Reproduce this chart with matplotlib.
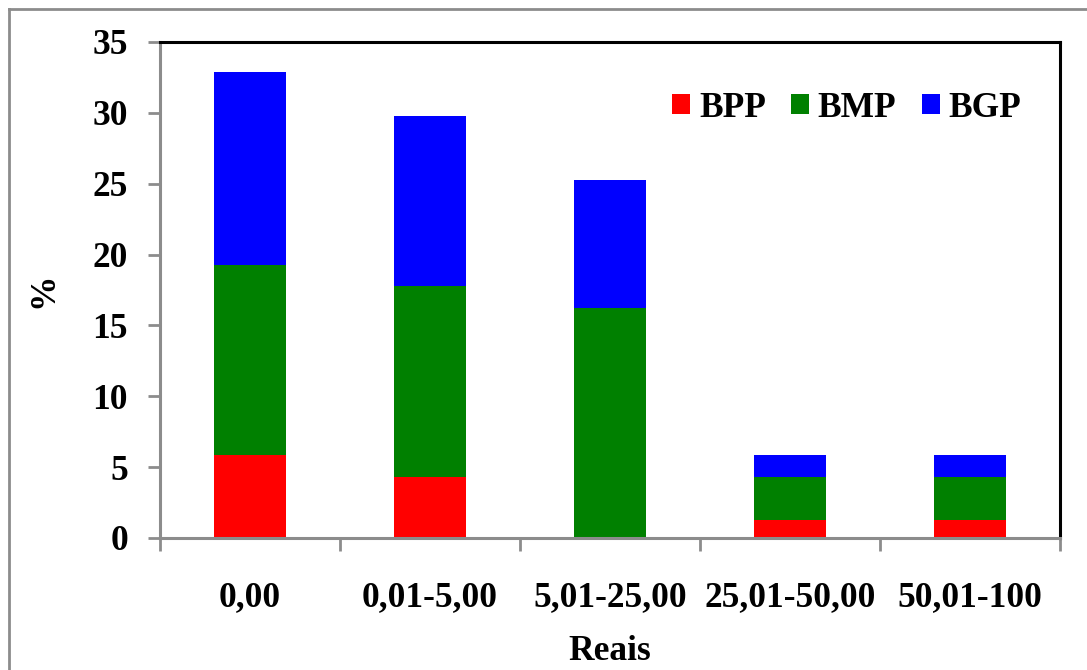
import matplotlib
matplotlib.use("Agg")
import matplotlib.pyplot as plt
from matplotlib.lines import Line2D
import numpy as np

# Income classes (Reais) and stacked percentages per group
categories = ["0,00", "0,01-5,00", "5,01-25,00", "25,01-50,00", "50,01-100"]
bpp = [5.88, 4.31, 0.0, 1.27, 1.27]
bmp = [13.35, 13.44, 16.20, 3.04, 3.04]
bgp = [13.65, 12.02, 9.05, 1.56, 1.56]
series_names = ["BPP", "BMP", "BGP"]
colors = ["#ff0000", "#008000", "#0000ff"]
yticks = [0, 5, 10, 15, 20, 25, 30, 35]

plt.rcParams["font.family"] = ["Liberation Serif", "DejaVu Serif"]
plt.rcParams["font.weight"] = "bold"

W, H = 1087, 670
fig = plt.figure(figsize=(W / 100, H / 100), dpi=100)
ax = fig.add_axes([160 / W, 1 - 538 / H, 900 / W, 496 / H])

x = np.arange(len(categories))
width = 0.4
bottom = np.zeros(len(categories))
for vals, name, col in zip([bpp, bmp, bgp], series_names, colors):
    ax.bar(x, vals, width, bottom=bottom, color=col, label=name, linewidth=0)
    bottom += np.array(vals)

ax.set_xlim(-0.5, len(categories) - 0.5)
ax.set_ylim(0, 35)

# y axis
ax.set_yticks(yticks)
ax.set_yticklabels([str(t) for t in yticks], fontsize=25.5, fontweight="bold")
ax.tick_params(axis="y", direction="out", length=9, width=2, color="#8c8c8c", pad=14)

# x axis: labels at centers, tick marks at category boundaries
ax.set_xticks(x)
ax.set_xticklabels(categories, fontsize=25.5, fontweight="bold")
ax.tick_params(axis="x", which="major", length=0, pad=31)
ax.set_xticks(np.arange(-0.5, len(categories)), minor=True)
ax.tick_params(axis="x", which="minor", direction="out", length=9, width=2, color="#8c8c8c")

for side in ["left", "bottom"]:
    ax.spines[side].set_color("#8c8c8c")
    ax.spines[side].set_linewidth(2.2)
for side in ["top", "right"]:
    ax.spines[side].set_color("black")
    ax.spines[side].set_linewidth(2.2)

ax.set_ylabel("%", fontsize=25.5, fontweight="bold")
ax.yaxis.set_label_coords(-0.111, 0.5)
ax.set_xlabel("Reais", fontsize=25.5, fontweight="bold")
ax.xaxis.set_label_coords(0.5, -0.196)

ax.legend(loc="center right", bbox_to_anchor=(0.957, 0.866), ncol=3, frameon=False,
          handlelength=0.5, handleheight=0.5, handletextpad=0.25,
          columnspacing=0.72, borderaxespad=0, borderpad=0,
          prop={"size": 25.5, "weight": "bold"})

# outer frame
fig.add_artist(Line2D([9 / W, 9 / W], [0, 1 - 9 / H], transform=fig.transFigure,
                      color="#8c8c8c", linewidth=2))
fig.add_artist(Line2D([9 / W, 1], [1 - 9 / H, 1 - 9 / H], transform=fig.transFigure,
                      color="#8c8c8c", linewidth=2))

fig.savefig("out.png", dpi=100)
